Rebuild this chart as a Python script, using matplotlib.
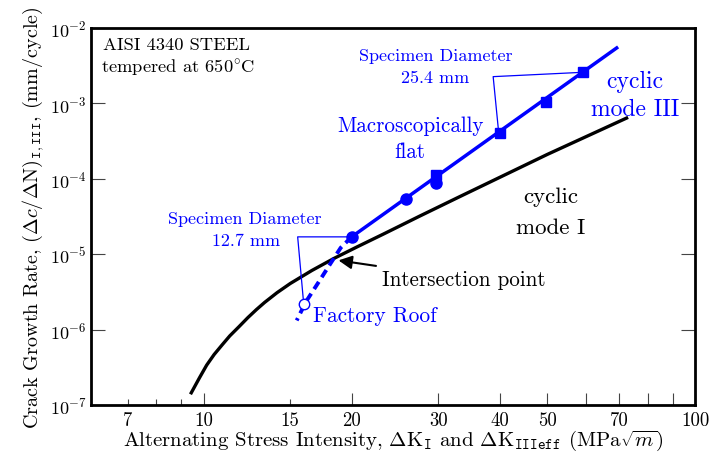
import matplotlib
matplotlib.use("Agg")
import matplotlib.pyplot as plt
from matplotlib.ticker import FixedLocator, FixedFormatter, LogLocator, NullFormatter

plt.rcParams["font.family"] = "serif"
plt.rcParams["font.serif"] = ["cmr10"]
plt.rcParams["mathtext.fontset"] = "cm"
plt.rcParams["axes.formatter.use_mathtext"] = True
plt.rcParams["axes.unicode_minus"] = False

BLUE = "#0000ff"

# cyclic mode I (black curve)
mode1_k = [9.4, 9.8, 10.14, 10.5, 10.9, 11.3, 11.8, 12.3, 12.8, 13.3, 14.1, 15.0,
           16.6, 18.4, 20.5, 23.2, 27.5, 33.0, 50.0, 73.0]
mode1_rate = [1.4e-7, 2.3e-7, 3.4e-7, 4.7e-7, 6.3e-7, 8.3e-7, 1.1e-6, 1.45e-6,
              1.85e-6, 2.3e-6, 3.1e-6, 4.1e-6, 6.1e-6, 8.8e-6, 1.25e-5, 1.85e-5,
              3.2e-5, 5.7e-5, 2.1e-4, 6.5e-4]

# cyclic mode III, macroscopically flat (blue line)
mode3_k = [20.0, 69.2]
mode3_rate = [1.7e-5, 5.4e-3]

# specimen 12.7 mm (circles) and 25.4 mm (squares)
small_k = [20.0, 25.8, 29.7]
small_rate = [1.7e-5, 5.4e-5, 8.7e-5]
large_k = [29.7, 40.0, 49.6, 59.1]
large_rate = [1.13e-4, 4.08e-4, 1.03e-3, 2.57e-3]

# factory roof branch (dashed) and open point
roof_k = [20.0, 19.0, 18.1, 17.1, 16.15, 15.46]
roof_rate = [1.7e-5, 1.22e-5, 7.5e-6, 4.2e-6, 2.36e-6, 1.33e-6]
roof_pt_k = [16.0]
roof_pt_rate = [2.21e-6]

x_major = [10, 20, 30, 40, 50, 60, 70, 80, 90, 100]
x_major_labels = ["10", "20", "30", "40", "50", "", "70", "", "", "100"]
x_minor = [7, 8, 9, 15]
x_minor_labels = ["7", "", "", "15"]

fig = plt.figure(figsize=(7.14, 4.56), dpi=100)
ax = fig.add_axes([0.1275, 0.109, 0.8463, 0.828])
ax.set_xscale("log")
ax.set_yscale("log")
ax.set_xlim(5.9, 100)
ax.set_ylim(1e-7, 1e-2)

ax.plot(mode1_k, mode1_rate, color="black", lw=2.4, solid_capstyle="butt")
ax.plot(roof_k, roof_rate, color=BLUE, lw=2.8, dashes=(2.2, 1.4))
ax.plot(mode3_k, mode3_rate, color=BLUE, lw=2.5)
ax.plot(small_k, small_rate, "o", color=BLUE, ms=8)
ax.plot(large_k, large_rate, "s", color=BLUE, ms=7)
ax.plot(roof_pt_k, roof_pt_rate, "o", mfc="white", mec=BLUE, mew=1.0, ms=7.5)

# specimen brackets
ax.plot([small_k[0], 15.53, 15.94], [small_rate[0], small_rate[0], 2.58e-6],
        color=BLUE, lw=0.9)
ax.plot([large_k[-1], 38.8, 39.75], [large_rate[-1], 2.25e-3, 4.57e-4],
        color=BLUE, lw=0.9)

# texts
ax.text(0.02, 0.955, "AISI 4340 STEEL", transform=ax.transAxes, fontsize=13.3,
        ha="left", va="center")
ax.text(0.0165, 0.895, r"tempered at 650$^{\circ}$C", transform=ax.transAxes,
        fontsize=13.3, ha="left", va="center")

ax.text(29.6, 4.3e-3, "Specimen Diameter", color=BLUE, fontsize=13, ha="center", va="center")
ax.text(29.5, 2.17e-3, "25.4 mm", color=BLUE, fontsize=13, ha="center", va="center")
ax.text(12.13, 3.0e-5, "Specimen Diameter", color=BLUE, fontsize=13, ha="center", va="center")
ax.text(12.19, 1.52e-5, "12.7 mm", color=BLUE, fontsize=13, ha="center", va="center")

ax.text(26.4, 5.1e-4, "Macroscopically", color=BLUE, fontsize=15.2, ha="center", va="center")
ax.text(26.3, 2.29e-4, "flat", color=BLUE, fontsize=15.2, ha="center", va="center")
ax.text(75.4, 2.0e-3, "cyclic", color=BLUE, fontsize=17, ha="center", va="center")
ax.text(75.6, 8.4e-4, "mode III", color=BLUE, fontsize=17, ha="center", va="center")
ax.text(50.9, 5.9e-5, "cyclic", color="black", fontsize=16.5, ha="center", va="center")
ax.text(50.9, 2.3e-5, "mode I", color="black", fontsize=16.5, ha="center", va="center")
ax.text(22.3, 1.55e-6, "Factory Roof", color=BLUE, fontsize=15.4, ha="center", va="center")

ax.annotate("Intersection point", xy=(18.8, 8.3e-6), xytext=(23.0, 4.74e-6),
            fontsize=15.2, ha="left", va="center",
            arrowprops=dict(arrowstyle="-|>", color="black", lw=1.5,
                            mutation_scale=20, shrinkA=2, shrinkB=0))

# axes styling
for s in ax.spines.values():
    s.set_linewidth(2.0)

ax.xaxis.set_major_locator(FixedLocator(x_major))
ax.xaxis.set_major_formatter(FixedFormatter(x_major_labels))
ax.xaxis.set_minor_locator(FixedLocator(x_minor))
ax.xaxis.set_minor_formatter(FixedFormatter(x_minor_labels))
ax.tick_params(axis="x", which="major", direction="in", length=9, width=0.8,
               color="#444444", labelsize=13.5, pad=4)
ax.tick_params(axis="x", which="minor", direction="in", length=4.5, width=0.8,
               color="#444444", labelsize=13.5, pad=4)

ax.yaxis.set_major_locator(LogLocator(base=10, numticks=10))
ax.yaxis.set_minor_formatter(NullFormatter())
ax.yaxis.set_minor_locator(FixedLocator([]))
ax.tick_params(axis="y", which="major", direction="in", length=10, width=0.8,
               color="#444444", labelsize=13, pad=3, right=True)

ax.set_xlabel(r"Alternating Stress Intensity, $\Delta\mathrm{K}_{\mathtt{I}}$ and "
              r"$\Delta\mathrm{K}_{\mathtt{IIIeff}}$ (MPa$\sqrt{m}$)", fontsize=15,
              labelpad=-1)
ax.set_ylabel(r"Crack Growth Rate, $(\Delta c/\Delta\mathrm{N})_{\mathtt{I,III}}$, (mm/cycle)",
              fontsize=14.5, labelpad=3)

fig.savefig("out.png", dpi=100)
